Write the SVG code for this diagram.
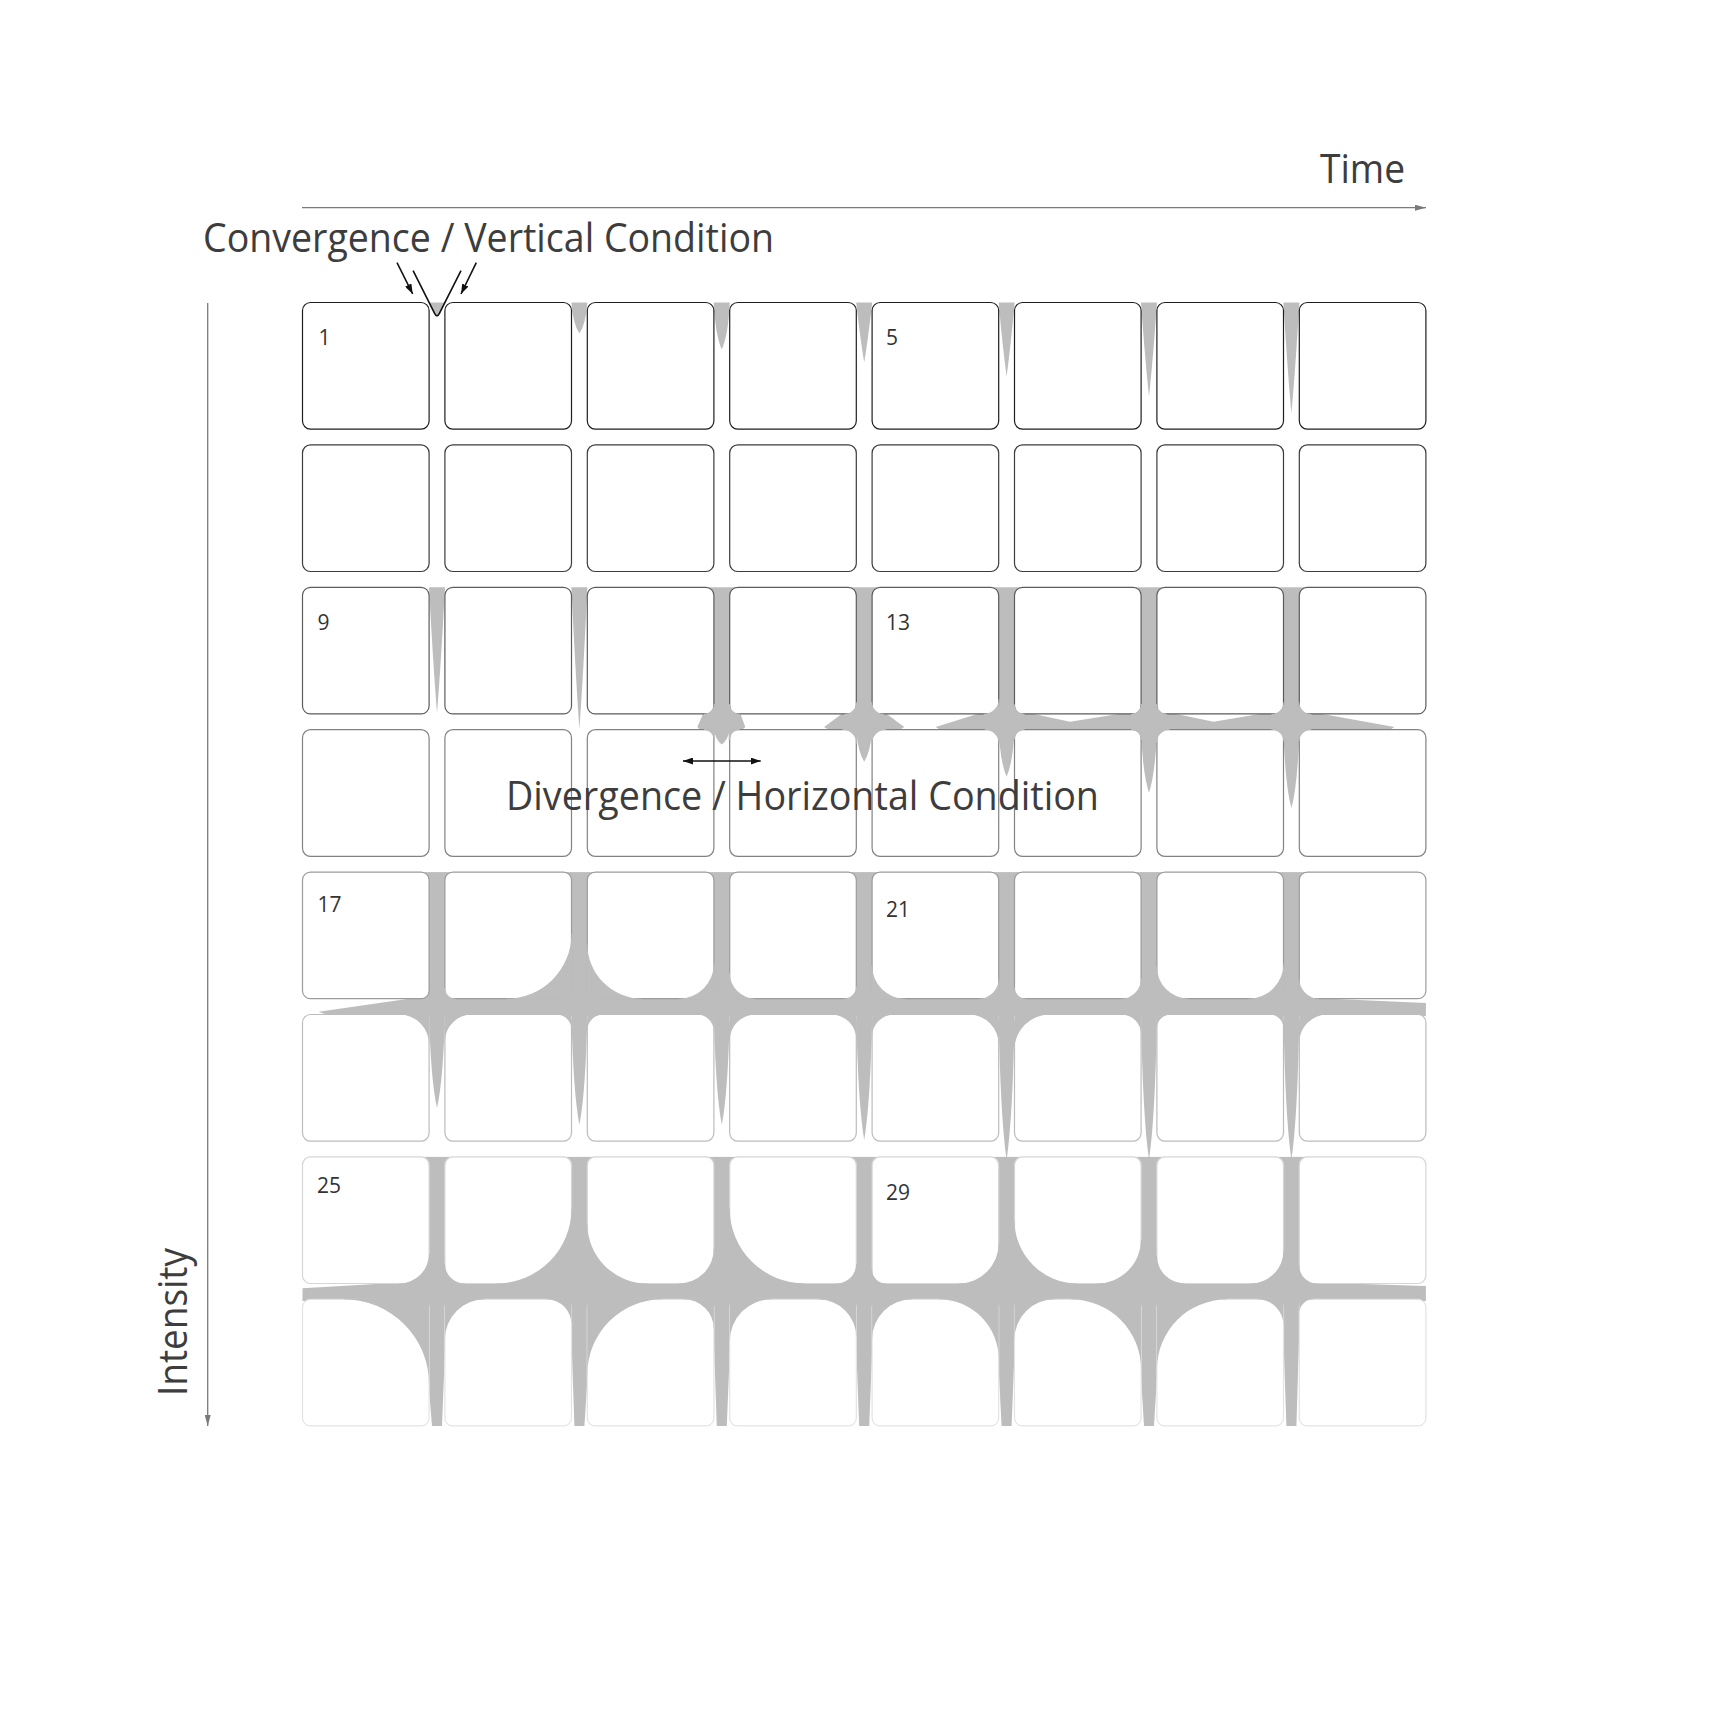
<svg xmlns="http://www.w3.org/2000/svg" width="1728" height="1728" viewBox="0 0 1728 1728">
<defs>
<style>
.cell{fill:#fff;stroke-width:1.2}
.r1{stroke:#1e1e1e}.r2{stroke:#3c3c3c}.r3{stroke:#5c5c5c}.r4{stroke:#828282}.r5{stroke:#9c9c9c}.r6{stroke:#bcbcbc}.r7{stroke:#d6d6d6}.r8{stroke:#e3e3e3}
.g{fill:#bdbdbd}
.t{font-family:"Open Sans","Noto Sans","Liberation Sans",sans-serif;fill:#3d3d3d}
.big{font-size:40px}
.num{font-size:21px;fill:#333}
.ann{stroke:#111;stroke-width:1.6;fill:none}
.axis{stroke:#7a7a7a;stroke-width:1.3;fill:none}
</style>
<marker id="ah" viewBox="0 0 10 7" refX="10" refY="3.5" markerWidth="10" markerHeight="7" markerUnits="userSpaceOnUse" orient="auto-start-reverse"><path d="M0,0 L10,3.5 L0,7 Z" fill="#111"/></marker>
<marker id="ax" viewBox="0 0 11 6" refX="11" refY="3" markerWidth="11" markerHeight="6" markerUnits="userSpaceOnUse" orient="auto"><path d="M0,0 L11,3 L0,6 Z" fill="#7a7a7a"/></marker>
</defs>
<rect width="1728" height="1728" fill="#fff"/>

<g id="gray-under" class="g">
<!-- frames 1-8 drops -->
<path d="M429.1,302.5 L444.9,302.5 L437,317.5 Z"/>
<path d="M571.4,302.5 Q573,324.2 579.4,333.5 Q585.8,324.2 587.4,302.5 Z"/>
<path d="M713.8,302.5 Q715.4,335.4 721.8,349.5 Q728.2,335.4 729.8,302.5 Z"/>
<path d="M856.2,302.5 Q860.2,338.5 864.2,362.5 Q868.2,338.5 872.2,302.5 Z"/>
<path d="M998.6,302.5 Q1002.6,346.9 1006.6,376.5 Q1010.6,346.9 1014.6,302.5 Z"/>
<path d="M1141,302.5 Q1145,358.9 1149,396.5 Q1153,358.9 1157,302.5 Z"/>
<path d="M1283.4,302.5 Q1287.4,369.1 1291.4,413.5 Q1295.4,369.1 1299.4,302.5 Z"/>
<!-- frames 9-16 -->
<path d="M429,587.3 Q433,662.9 437,713.3 Q441,662.9 445,587.3 Z"/>
<path d="M571.4,587.3 Q575.4,672.5 579.4,729.3 Q583.4,672.5 587.4,587.3 Z"/>
<rect x="705.9" y="587.3" width="31.8" height="143.7"/>
<rect x="848.3" y="587.3" width="31.8" height="143.7"/>
<rect x="990.7" y="587.3" width="31.8" height="143.7"/>
<rect x="1133.1" y="587.3" width="31.8" height="143.7"/>
<rect x="1275.5" y="587.3" width="31.8" height="143.7"/>
<polygon points="697.3,727 703.9,712 739.7,712 745.3,727 741,731 701,731"/>
<polygon points="824.2,727 844.3,712 884.1,712 904.2,727 898,731 830,731"/>
<polygon points="935.7,727 983.7,712 1024.5,712 1070,721.7 1131.1,712 1166.9,712 1213.5,721.7 1271.5,712 1311.3,712 1394.5,727 1388,731 942,731"/>
<path d="M713.8,729 Q715.4,739.9 721.8,744.5 Q728.2,739.9 729.8,729 Z"/>
<path d="M856.2,729 Q857.8,751.9 864.2,761.7 Q870.6,751.9 872.2,729 Z"/>
<path d="M998.6,729 Q1000.2,762.4 1006.6,776.7 Q1013,762.4 1014.6,729 Z"/>
<path d="M1141,729 Q1142.6,773.6 1149,792.7 Q1155.4,773.6 1157,729 Z"/>
<path d="M1283.4,729 Q1285,784.5 1291.4,808.3 Q1297.8,784.5 1299.4,729 Z"/>
<!-- frames 17-24 -->
<rect x="421.1" y="872.1" width="31.8" height="136"/>
<rect x="563.5" y="872.1" width="31.8" height="136"/>
<rect x="705.9" y="872.1" width="31.8" height="136"/>
<rect x="848.3" y="872.1" width="31.8" height="136"/>
<rect x="990.7" y="872.1" width="31.8" height="136"/>
<rect x="1133.1" y="872.1" width="31.8" height="136"/>
<rect x="1275.5" y="872.1" width="31.8" height="136"/>
<polygon points="318.7,1011.7 421,997 1291.4,997 1425.9,1003 1425.9,1016 330,1016"/>
<path d="M429,1012 Q430.6,1079.2 437,1108 Q443.4,1079.2 445,1012 Z"/>
<path d="M571.4,1012 Q573,1091.1 579.4,1125 Q585.8,1091.1 587.4,1012 Z"/>
<path d="M713.8,1012 Q715.4,1091.1 721.8,1125 Q728.2,1091.1 729.8,1012 Z"/>
<path d="M856.2,1012 Q857.8,1101.6 864.2,1140 Q870.6,1101.6 872.2,1012 Z"/>
<path d="M998.6,1012 Q1000.2,1115.6 1006.6,1160 Q1013,1115.6 1014.6,1012 Z"/>
<path d="M1141,1012 Q1142.6,1115.6 1149,1160 Q1155.4,1115.6 1157,1012 Z"/>
<path d="M1283.4,1012 Q1285,1115.6 1291.4,1160 Q1297.8,1115.6 1299.4,1012 Z"/>
<!-- frames 25-32 -->
<rect x="421.1" y="1156.9" width="31.8" height="137"/>
<rect x="563.5" y="1156.9" width="31.8" height="137"/>
<rect x="705.9" y="1156.9" width="31.8" height="137"/>
<rect x="848.3" y="1156.9" width="31.8" height="137"/>
<rect x="990.7" y="1156.9" width="31.8" height="137"/>
<rect x="1133.1" y="1156.9" width="31.8" height="137"/>
<rect x="1275.5" y="1156.9" width="31.8" height="137"/>
<polygon points="302.5,1288.3 410,1282 1300,1282 1425.9,1286 1425.9,1301 302.5,1301"/>
<polygon points="428.6,1299 445.4,1299 445.4,1339.3 442,1425.9 432,1425.9 428.6,1384.3"/>
<polygon points="571,1299 587.8,1299 587.8,1374.3 584.4,1425.9 574.4,1425.9 571,1324.3"/>
<polygon points="713.4,1299 730.2,1299 730.2,1341.3 726.8,1425.9 716.8,1425.9 713.4,1329.3"/>
<polygon points="855.8,1299 872.6,1299 872.6,1339.3 869.2,1425.9 859.2,1425.9 855.8,1337.3"/>
<polygon points="998.2,1299 1015,1299 1015,1339.3 1011.6,1425.9 1001.6,1425.9 998.2,1359.3"/>
<polygon points="1140.6,1299 1157.4,1299 1157.4,1369.3 1154,1425.9 1144,1425.9 1140.6,1369.3"/>
<polygon points="1283,1299 1299.8,1299 1299.8,1313.3 1296.4,1425.9 1286.4,1425.9 1283,1325.3"/>
</g>

<g id="cells">
<g id="frame-1"><rect class="cell r1" x="302.5" y="302.5" width="126.6" height="126.6" rx="8"/><rect class="cell r2" x="302.5" y="444.9" width="126.6" height="126.6" rx="8"/><text class="t num" x="318.5" y="345">1</text></g>
<g id="frame-2"><rect class="cell r1" x="444.9" y="302.5" width="126.6" height="126.6" rx="8"/><rect class="cell r2" x="444.9" y="444.9" width="126.6" height="126.6" rx="8"/></g>
<g id="frame-3"><rect class="cell r1" x="587.3" y="302.5" width="126.6" height="126.6" rx="8"/><rect class="cell r2" x="587.3" y="444.9" width="126.6" height="126.6" rx="8"/></g>
<g id="frame-4"><rect class="cell r1" x="729.7" y="302.5" width="126.6" height="126.6" rx="8"/><rect class="cell r2" x="729.7" y="444.9" width="126.6" height="126.6" rx="8"/></g>
<g id="frame-5"><rect class="cell r1" x="872.1" y="302.5" width="126.6" height="126.6" rx="8"/><rect class="cell r2" x="872.1" y="444.9" width="126.6" height="126.6" rx="8"/><text class="t num" x="886" y="345">5</text></g>
<g id="frame-6"><rect class="cell r1" x="1014.5" y="302.5" width="126.6" height="126.6" rx="8"/><rect class="cell r2" x="1014.5" y="444.9" width="126.6" height="126.6" rx="8"/></g>
<g id="frame-7"><rect class="cell r1" x="1156.9" y="302.5" width="126.6" height="126.6" rx="8"/><rect class="cell r2" x="1156.9" y="444.9" width="126.6" height="126.6" rx="8"/></g>
<g id="frame-8"><rect class="cell r1" x="1299.3" y="302.5" width="126.6" height="126.6" rx="8"/><rect class="cell r2" x="1299.3" y="444.9" width="126.6" height="126.6" rx="8"/></g>

<g id="frame-9"><rect class="cell r3" x="302.5" y="587.3" width="126.6" height="126.6" rx="8"/><rect class="cell r4" x="302.5" y="729.7" width="126.6" height="126.6" rx="8"/><text class="t num" x="317.5" y="630">9</text></g>
<g id="frame-10"><rect class="cell r3" x="444.9" y="587.3" width="126.6" height="126.6" rx="8"/><rect class="cell r4" x="444.9" y="729.7" width="126.6" height="126.6" rx="8"/></g>
<g id="frame-11"><rect class="cell r3" x="587.3" y="587.3" width="126.6" height="126.6" rx="8"/><rect class="cell r4" x="587.3" y="729.7" width="126.6" height="126.6" rx="8"/></g>
<g id="frame-12"><rect class="cell r3" x="729.7" y="587.3" width="126.6" height="126.6" rx="8"/><rect class="cell r4" x="729.7" y="729.7" width="126.6" height="126.6" rx="8"/></g>
<g id="frame-13"><rect class="cell r3" x="872.1" y="587.3" width="126.6" height="126.6" rx="8"/><rect class="cell r4" x="872.1" y="729.7" width="126.6" height="126.6" rx="8"/><text class="t num" x="886" y="630">13</text></g>
<g id="frame-14"><rect class="cell r3" x="1014.5" y="587.3" width="126.6" height="126.6" rx="8"/><rect class="cell r4" x="1014.5" y="729.7" width="126.6" height="126.6" rx="8"/></g>
<g id="frame-15"><rect class="cell r3" x="1156.9" y="587.3" width="126.6" height="126.6" rx="8"/><rect class="cell r4" x="1156.9" y="729.7" width="126.6" height="126.6" rx="8"/></g>
<g id="frame-16"><rect class="cell r3" x="1299.3" y="587.3" width="126.6" height="126.6" rx="8"/><rect class="cell r4" x="1299.3" y="729.7" width="126.6" height="126.6" rx="8"/></g>

<g id="frame-17"><rect class="cell r5" x="302.5" y="872.1" width="126.6" height="126.6" rx="8"/><rect class="cell r6" x="302.5" y="1014.5" width="126.6" height="126.6" rx="8"/><text class="t num" x="317.5" y="912">17</text></g>
<g id="frame-18"><rect class="cell r5" x="444.9" y="872.1" width="126.6" height="126.6" rx="8"/><rect class="cell r6" x="444.9" y="1014.5" width="126.6" height="126.6" rx="8"/></g>
<g id="frame-19"><rect class="cell r5" x="587.3" y="872.1" width="126.6" height="126.6" rx="8"/><rect class="cell r6" x="587.3" y="1014.5" width="126.6" height="126.6" rx="8"/></g>
<g id="frame-20"><rect class="cell r5" x="729.7" y="872.1" width="126.6" height="126.6" rx="8"/><rect class="cell r6" x="729.7" y="1014.5" width="126.6" height="126.6" rx="8"/></g>
<g id="frame-21"><rect class="cell r5" x="872.1" y="872.1" width="126.6" height="126.6" rx="8"/><rect class="cell r6" x="872.1" y="1014.5" width="126.6" height="126.6" rx="8"/><text class="t num" x="886" y="917">21</text></g>
<g id="frame-22"><rect class="cell r5" x="1014.5" y="872.1" width="126.6" height="126.6" rx="8"/><rect class="cell r6" x="1014.5" y="1014.5" width="126.6" height="126.6" rx="8"/></g>
<g id="frame-23"><rect class="cell r5" x="1156.9" y="872.1" width="126.6" height="126.6" rx="8"/><rect class="cell r6" x="1156.9" y="1014.5" width="126.6" height="126.6" rx="8"/></g>
<g id="frame-24"><rect class="cell r5" x="1299.3" y="872.1" width="126.6" height="126.6" rx="8"/><rect class="cell r6" x="1299.3" y="1014.5" width="126.6" height="126.6" rx="8"/></g>

<g id="frame-25"><rect class="cell r7" x="302.5" y="1156.9" width="126.6" height="126.6" rx="8"/><rect class="cell r8" x="302.5" y="1299.3" width="126.6" height="126.6" rx="8"/><text class="t num" x="317" y="1193">25</text></g>
<g id="frame-26"><rect class="cell r7" x="444.9" y="1156.9" width="126.6" height="126.6" rx="8"/><rect class="cell r8" x="444.9" y="1299.3" width="126.6" height="126.6" rx="8"/></g>
<g id="frame-27"><rect class="cell r7" x="587.3" y="1156.9" width="126.6" height="126.6" rx="8"/><rect class="cell r8" x="587.3" y="1299.3" width="126.6" height="126.6" rx="8"/></g>
<g id="frame-28"><rect class="cell r7" x="729.7" y="1156.9" width="126.6" height="126.6" rx="8"/><rect class="cell r8" x="729.7" y="1299.3" width="126.6" height="126.6" rx="8"/></g>
<g id="frame-29"><rect class="cell r7" x="872.1" y="1156.9" width="126.6" height="126.6" rx="8"/><rect class="cell r8" x="872.1" y="1299.3" width="126.6" height="126.6" rx="8"/><text class="t num" x="886" y="1200">29</text></g>
<g id="frame-30"><rect class="cell r7" x="1014.5" y="1156.9" width="126.6" height="126.6" rx="8"/><rect class="cell r8" x="1014.5" y="1299.3" width="126.6" height="126.6" rx="8"/></g>
<g id="frame-31"><rect class="cell r7" x="1156.9" y="1156.9" width="126.6" height="126.6" rx="8"/><rect class="cell r8" x="1156.9" y="1299.3" width="126.6" height="126.6" rx="8"/></g>
<g id="frame-32"><rect class="cell r7" x="1299.3" y="1156.9" width="126.6" height="126.6" rx="8"/><rect class="cell r8" x="1299.3" y="1299.3" width="126.6" height="126.6" rx="8"/></g>
</g>

<g id="gray-over" class="g">
<!-- rows 3-4 junctions -->
<path d="M714.9,714.9 V703.9 H713.9 A10 10 0 0 1 703.9,713.9 V714.9 Z"/>
<path d="M728.7,714.9 V703.9 H729.7 A10 10 0 0 0 739.7,713.9 V714.9 Z"/>
<path d="M714.9,728.7 V739.7 H713.9 A10 10 0 0 0 703.9,729.7 V728.7 Z"/>
<path d="M728.7,728.7 V739.7 H729.7 A10 10 0 0 1 739.7,729.7 V728.7 Z"/>
<path d="M857.3,714.9 V701.9 H856.3 A12 12 0 0 1 844.3,713.9 V714.9 Z"/>
<path d="M871.1,714.9 V701.9 H872.1 A12 12 0 0 0 884.1,713.9 V714.9 Z"/>
<path d="M857.3,728.7 V743.7 H856.3 A14 14 0 0 0 842.3,729.7 V728.7 Z"/>
<path d="M871.1,728.7 V743.7 H872.1 A14 14 0 0 1 886.1,729.7 V728.7 Z"/>
<path d="M999.7,714.9 V698.9 H998.7 A15 15 0 0 1 983.7,713.9 V714.9 Z"/>
<path d="M1013.5,714.9 V703.9 H1014.5 A10 10 0 0 0 1024.5,713.9 V714.9 Z"/>
<path d="M999.7,728.7 V743.7 H998.7 A14 14 0 0 0 984.7,729.7 V728.7 Z"/>
<path d="M1013.5,728.7 V739.7 H1014.5 A10 10 0 0 1 1024.5,729.7 V728.7 Z"/>
<path d="M1142.1,714.9 V703.9 H1141.1 A10 10 0 0 1 1131.1,713.9 V714.9 Z"/>
<path d="M1155.9,714.9 V703.9 H1156.9 A10 10 0 0 0 1166.9,713.9 V714.9 Z"/>
<path d="M1142.1,728.7 V739.7 H1141.1 A10 10 0 0 0 1131.1,729.7 V728.7 Z"/>
<path d="M1155.9,728.7 V742.7 H1156.9 A13 13 0 0 1 1169.9,729.7 V728.7 Z"/>
<path d="M1284.5,714.9 V701.9 H1283.5 A12 12 0 0 1 1271.5,713.9 V714.9 Z"/>
<path d="M1298.3,714.9 V701.9 H1299.3 A12 12 0 0 0 1311.3,713.9 V714.9 Z"/>
<path d="M1284.5,728.7 V741.7 H1283.5 A12 12 0 0 0 1271.5,729.7 V728.7 Z"/>
<path d="M1298.3,728.7 V741.7 H1299.3 A12 12 0 0 1 1311.3,729.7 V728.7 Z"/>
<!-- rows 5-6 -->
<path d="M572.5,999.7 V933.7 H571.5 A65 65 0 0 1 506.5,998.7 V999.7 Z"/>
<path d="M443.9,999.7 V987.7 H444.9 A11 11 0 0 0 455.9,998.7 V999.7 Z"/>
<path d="M586.3,999.7 V943.7 H587.3 A55 55 0 0 0 642.3,998.7 V999.7 Z"/>
<path d="M714.9,999.7 V963.7 H713.9 A35 35 0 0 1 678.9,998.7 V999.7 Z"/>
<path d="M728.7,999.7 V972.7 H729.7 A26 26 0 0 0 755.7,998.7 V999.7 Z"/>
<path d="M857.3,999.7 V985.7 H856.3 A13 13 0 0 1 843.3,998.7 V999.7 Z"/>
<path d="M871.1,999.7 V965.7 H872.1 A33 33 0 0 0 905.1,998.7 V999.7 Z"/>
<path d="M999.7,999.7 V978.7 H998.7 A20 20 0 0 1 978.7,998.7 V999.7 Z"/>
<path d="M1013.5,999.7 V986.7 H1014.5 A12 12 0 0 0 1026.5,998.7 V999.7 Z"/>
<path d="M1142.1,999.7 V978.7 H1141.1 A20 20 0 0 1 1121.1,998.7 V999.7 Z"/>
<path d="M1155.9,999.7 V966.7 H1156.9 A32 32 0 0 0 1188.9,998.7 V999.7 Z"/>
<path d="M1284.5,999.7 V963.7 H1283.5 A35 35 0 0 1 1248.5,998.7 V999.7 Z"/>
<path d="M1298.3,999.7 V978.7 H1299.3 A20 20 0 0 0 1319.3,998.7 V999.7 Z"/>
<path d="M429.1,1013.5 V1044.5 A30 30 0 0 0 399.1,1014.5 V1013.5 Z"/>
<path d="M444.9,1013.5 V1041.5 A27 27 0 0 1 471.9,1014.5 V1013.5 Z"/>
<path d="M571.5,1013.5 V1029.5 A15 15 0 0 0 556.5,1014.5 V1013.5 Z"/>
<path d="M587.3,1013.5 V1030.5 A16 16 0 0 1 603.3,1014.5 V1013.5 Z"/>
<path d="M713.9,1013.5 V1031.5 A17 17 0 0 0 696.9,1014.5 V1013.5 Z"/>
<path d="M729.7,1013.5 V1040.5 A26 26 0 0 1 755.7,1014.5 V1013.5 Z"/>
<path d="M856.3,1013.5 V1039.5 A25 25 0 0 0 831.3,1014.5 V1013.5 Z"/>
<path d="M872.1,1013.5 V1036.5 A22 22 0 0 1 894.1,1014.5 V1013.5 Z"/>
<path d="M998.7,1013.5 V1044.5 A30 30 0 0 0 968.7,1014.5 V1013.5 Z"/>
<path d="M1014.5,1013.5 V1049.5 A35 35 0 0 1 1049.5,1014.5 V1013.5 Z"/>
<path d="M1141.1,1013.5 V1034.5 A20 20 0 0 0 1121.1,1014.5 V1013.5 Z"/>
<path d="M1156.9,1013.5 V1028.5 A14 14 0 0 1 1170.9,1014.5 V1013.5 Z"/>
<path d="M1283.5,1013.5 V1028.5 A14 14 0 0 0 1269.5,1014.5 V1013.5 Z"/>
<path d="M1299.3,1013.5 V1042.5 A28 28 0 0 1 1327.3,1014.5 V1013.5 Z"/>
<!-- rows 7-8 -->
<path d="M430.1,1284.5 V1253.5 H429.1 A30 30 0 0 1 399.1,1283.5 V1284.5 Z"/>
<path d="M443.9,1284.5 V1263.5 H444.9 A20 20 0 0 0 464.9,1283.5 V1284.5 Z"/>
<path d="M572.5,1284.5 V1208.5 H571.5 A75 75 0 0 1 496.5,1283.5 V1284.5 Z"/>
<path d="M586.3,1284.5 V1223.5 H587.3 A60 60 0 0 0 647.3,1283.5 V1284.5 Z"/>
<path d="M714.9,1284.5 V1248.5 H713.9 A35 35 0 0 1 678.9,1283.5 V1284.5 Z"/>
<path d="M728.7,1284.5 V1208.5 H729.7 A75 75 0 0 0 804.7,1283.5 V1284.5 Z"/>
<path d="M857.3,1284.5 V1263.5 H856.3 A20 20 0 0 1 836.3,1283.5 V1284.5 Z"/>
<path d="M871.1,1284.5 V1269.5 H872.1 A14 14 0 0 0 886.1,1283.5 V1284.5 Z"/>
<path d="M999.7,1284.5 V1243.5 H998.7 A40 40 0 0 1 958.7,1283.5 V1284.5 Z"/>
<path d="M1013.5,1284.5 V1220.5 H1014.5 A63 63 0 0 0 1077.5,1283.5 V1284.5 Z"/>
<path d="M1142.1,1284.5 V1239.5 H1141.1 A44 44 0 0 1 1097.1,1283.5 V1284.5 Z"/>
<path d="M1155.9,1284.5 V1255.5 H1156.9 A28 28 0 0 0 1184.9,1283.5 V1284.5 Z"/>
<path d="M1284.5,1284.5 V1250.5 H1283.5 A33 33 0 0 1 1250.5,1283.5 V1284.5 Z"/>
<path d="M1298.3,1284.5 V1265.5 H1299.3 A18 18 0 0 0 1317.3,1283.5 V1284.5 Z"/>
<path d="M429.1,1298.3 V1384.3 A85 85 0 0 0 344.1,1299.3 V1298.3 Z"/>
<path d="M444.9,1298.3 V1339.3 A40 40 0 0 1 484.9,1299.3 V1298.3 Z"/>
<path d="M571.5,1298.3 V1324.3 A25 25 0 0 0 546.5,1299.3 V1298.3 Z"/>
<path d="M587.3,1298.3 V1374.3 A75 75 0 0 1 662.3,1299.3 V1298.3 Z"/>
<path d="M713.9,1298.3 V1329.3 A30 30 0 0 0 683.9,1299.3 V1298.3 Z"/>
<path d="M729.7,1298.3 V1341.3 A42 42 0 0 1 771.7,1299.3 V1298.3 Z"/>
<path d="M856.3,1298.3 V1337.3 A38 38 0 0 0 818.3,1299.3 V1298.3 Z"/>
<path d="M872.1,1298.3 V1339.3 A40 40 0 0 1 912.1,1299.3 V1298.3 Z"/>
<path d="M998.7,1298.3 V1359.3 A60 60 0 0 0 938.7,1299.3 V1298.3 Z"/>
<path d="M1014.5,1298.3 V1339.3 A40 40 0 0 1 1054.5,1299.3 V1298.3 Z"/>
<path d="M1141.1,1298.3 V1369.3 A70 70 0 0 0 1071.1,1299.3 V1298.3 Z"/>
<path d="M1156.9,1298.3 V1369.3 A70 70 0 0 1 1226.9,1299.3 V1298.3 Z"/>
<path d="M1283.5,1298.3 V1325.3 A26 26 0 0 0 1257.5,1299.3 V1298.3 Z"/>
<path d="M1299.3,1298.3 V1313.3 A14 14 0 0 1 1313.3,1299.3 V1298.3 Z"/>
</g>

<g id="connectors">
<path class="ann" d="M413.1,270.7 L434.6,313.3 Q437,318.2 439.4,313.3 L461,270.7"/>
<line class="ann" x1="397" y1="262.7" x2="412.7" y2="294" marker-end="url(#ah)"/>
<line class="ann" x1="476.3" y1="262.7" x2="461" y2="294" marker-end="url(#ah)"/>
<line class="ann" x1="683" y1="761" x2="760.7" y2="761" marker-start="url(#ah)" marker-end="url(#ah)"/>
</g>

<g id="axes">
<line class="axis" x1="302" y1="207.7" x2="1426" y2="207.7" marker-end="url(#ax)"/>
<line class="axis" x1="207.7" y1="303" x2="207.7" y2="1426" marker-end="url(#ax)"/>
</g>

<g id="titles">
<text class="t big" x="1320" y="182.7" textLength="85" lengthAdjust="spacingAndGlyphs">Time</text>
<text class="t big" x="203" y="252" textLength="571" lengthAdjust="spacingAndGlyphs">Convergence / Vertical Condition</text>
<text class="t big" x="506" y="809.5" textLength="593" lengthAdjust="spacingAndGlyphs">Divergence / Horizontal Condition</text>
<text class="t big" transform="translate(186.7,1396) rotate(-90)" x="0" y="0" textLength="148" lengthAdjust="spacingAndGlyphs">Intensity</text>
</g>
</svg>
